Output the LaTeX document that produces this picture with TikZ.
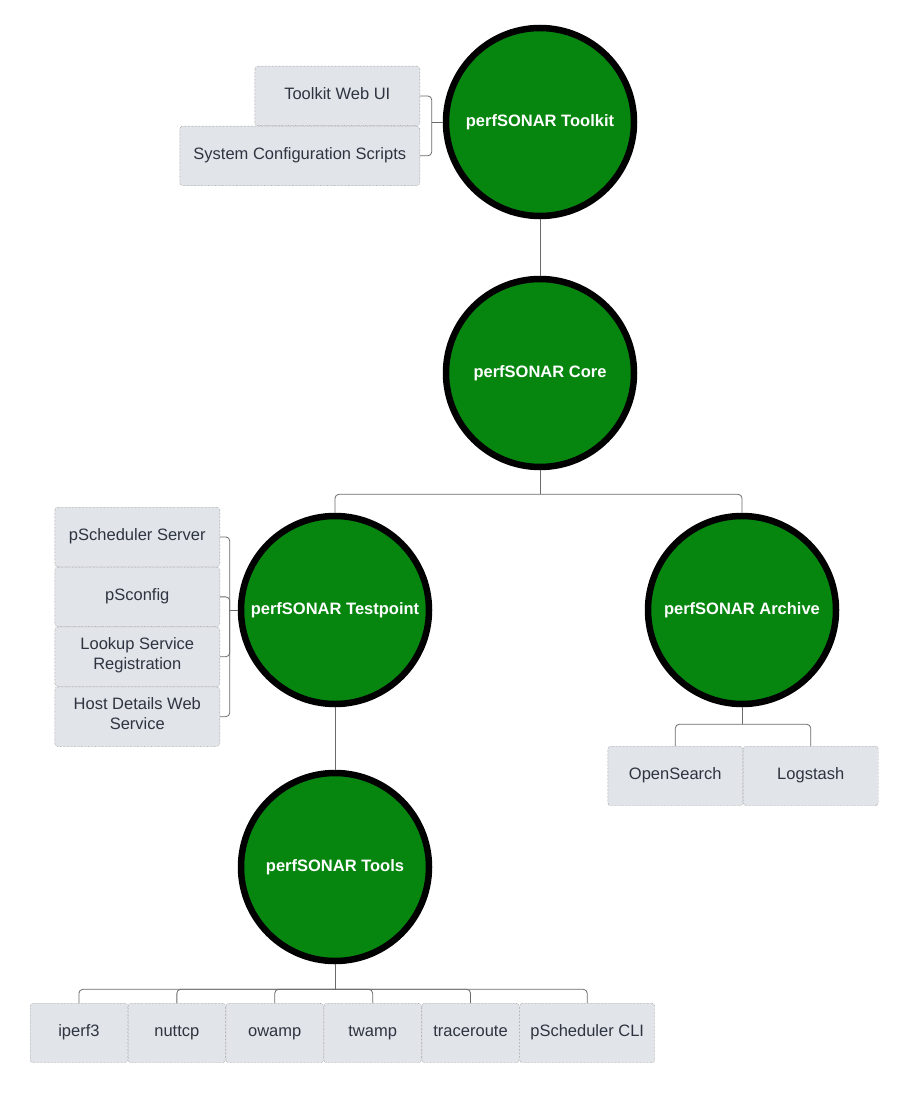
\documentclass[tikz,border=0pt]{standalone}
\usepackage{fontspec}
\setmainfont{Liberation Sans}
\usetikzlibrary{positioning}

\definecolor{psgreen}{HTML}{06850F}
\definecolor{boxfill}{HTML}{E1E4E9}
\definecolor{boxtext}{HTML}{2E3440}
\definecolor{linegray}{HTML}{6A6A6A}

\tikzset{
	comp/.style={circle, draw=black, line width=6.5pt, fill=psgreen, minimum size=188pt, inner sep=0pt, text=white, font=\fontsize{16.5}{20}\selectfont\bfseries},
	part/.style={rectangle, rounded corners=3pt, draw=linegray, densely dotted, fill=boxfill, text=boxtext, minimum height=59.5pt, inner sep=2pt, align=center, font=\fontsize{16.5}{20}\selectfont, execute at begin node=\strut},
	conn/.style={draw=linegray, line width=0.8pt, rounded corners=4pt, solid},
}

\begin{document}
\begin{tikzpicture}[node distance=0pt]
	\useasboundingbox (0,0) rectangle (908pt,-1094pt);

	\node[comp] (toolkit) at (540pt,-122pt) {perfSONAR Toolkit};
	\node[comp, on grid, below=251pt of toolkit] (core) {perfSONAR Core};
	\node[comp, on grid, below left=237pt and 205pt of core] (testpoint) {perfSONAR Testpoint};
	\node[comp, on grid, below right=237pt and 202pt of core] (archive) {perfSONAR Archive};
	\node[comp, on grid, below=257pt of testpoint] (tools) {perfSONAR Tools};

	% toolkit parts
	\node[part, minimum width=165pt, anchor=north east] (webui) at (420pt,-66pt) {Toolkit Web UI};
	\node[part, minimum width=240pt, anchor=north east] (sysconf) at (webui.south east) {System Configuration Scripts};

	% testpoint parts
	\node[part, minimum width=165pt, anchor=north east] (pss) at (220pt,-507pt) {pScheduler Server};
	\node[part, minimum width=165pt, below=of pss] (pscfg) {pSconfig};
	\node[part, minimum width=165pt, below=of pscfg] (lsr) {Lookup Service\\Registration};
	\node[part, minimum width=165pt, below=of lsr] (hdws) {Host Details Web\\Service\strut};

	% archive parts
	\node[part, minimum width=135pt, anchor=north east] (opensearch) at (743pt,-746pt) {OpenSearch};
	\node[part, minimum width=135pt, right=of opensearch] (logstash) {Logstash};

	% tools
	\node[part, minimum width=97.5pt, anchor=north west] (iperf) at (30pt,-1003pt) {iperf3};
	\node[part, minimum width=97.5pt, right=of iperf] (nuttcp) {nuttcp};
	\node[part, minimum width=97.5pt, right=of nuttcp] (owamp) {owamp};
	\node[part, minimum width=97.5pt, right=of owamp] (twamp) {twamp};
	\node[part, minimum width=97.5pt, right=of twamp] (trace) {traceroute};
	\node[part, minimum width=135pt, right=of trace] (pscli) {pScheduler CLI};

	% connectors
	\draw[conn] (toolkit) -- (core);
	\draw[conn] (testpoint) -- (tools);

	\coordinate (tkj) at ([xshift=-11pt]toolkit.west);
	\draw[conn] (toolkit.west) -- (tkj);
	\draw[conn] (webui.east) -| (tkj) |- (sysconf.east);

	\coordinate (cj) at ([yshift=-24pt]core.south);
	\draw[conn] (core.south) -- (cj);
	\draw[conn] (testpoint.north) |- (cj) -| (archive.north);

	\coordinate (tpj) at ([xshift=-8pt]testpoint.west);
	\draw[conn] (testpoint.west) -- (tpj);
	\draw[conn] (pss.east) -| (tpj) |- (hdws.east);
	\draw[conn] (pscfg.east) -| (tpj);
	\draw[conn] (lsr.east) -| (tpj);

	\coordinate (aj) at ([yshift=-17pt]archive.south);
	\draw[conn] (archive.south) -- (aj);
	\draw[conn] (opensearch.north) |- (aj) -| (logstash.north);

	\coordinate (tj) at ([yshift=-25pt]tools.south);
	\draw[conn] (tools.south) -- (tj);
	\foreach \p in {iperf, nuttcp, owamp, twamp, trace, pscli}
		\draw[conn] (tj) -| (\p.north);
\end{tikzpicture}
\end{document}
